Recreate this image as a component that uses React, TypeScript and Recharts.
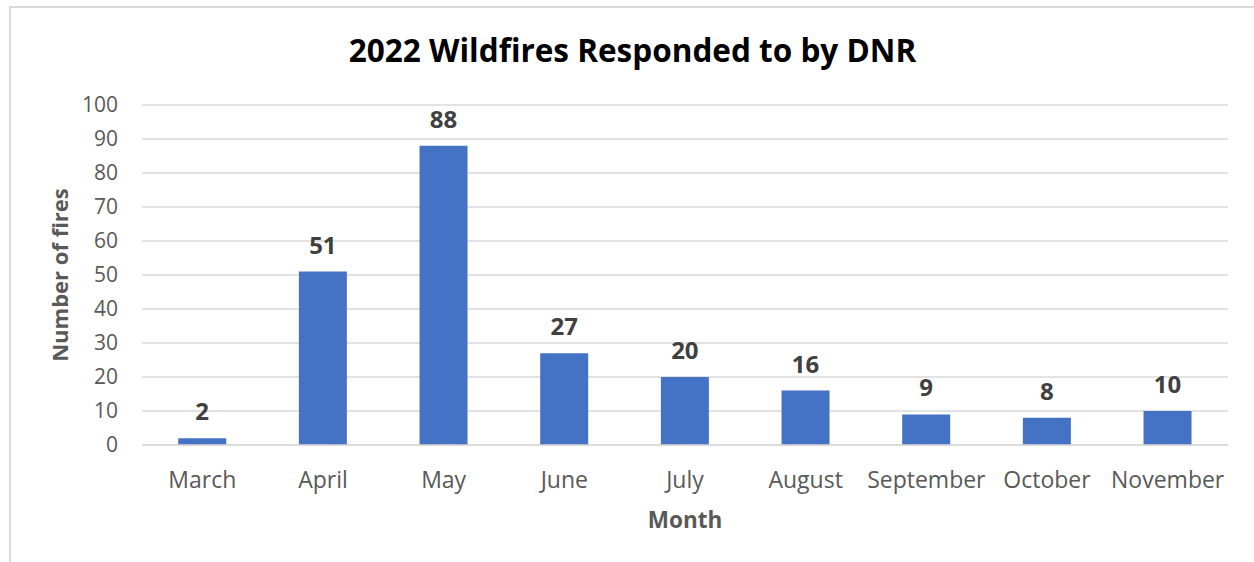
import { BarChart, Bar, XAxis, YAxis, CartesianGrid, LabelList, Label } from "recharts";

const months = ["March", "April", "May", "June", "July", "August", "September", "October", "November"];
const fires = [2, 51, 88, 27, 20, 16, 9, 8, 10];
const yTicks = [0, 10, 20, 30, 40, 50, 60, 70, 80, 90, 100];

const font = "'Open Sans', 'Noto Sans', sans-serif";

export default function App() {
  const data = months.map((month, i) => ({ month, fires: fires[i] }));

  return (
    <div style={{ position: "absolute", left: 0, top: 0, width: 1254, height: 562, background: "#fff", overflow: "hidden", fontFamily: font }}>
      <div
        style={{
          position: "absolute",
          left: 9,
          top: 6,
          width: 1300,
          height: 600,
          border: "2px solid #d9d9d9",
          boxSizing: "border-box",
        }}
      />
      <div
        style={{
          position: "absolute",
          left: 0,
          width: 1265,
          top: 29,
          textAlign: "center",
          fontSize: 31.5,
          fontWeight: 700,
          color: "#000",
          lineHeight: "42px",
        }}
      >
        2022 Wildfires Responded to by DNR
      </div>
      <div style={{ position: "absolute", left: 0, top: 0 }}>
        <BarChart
          width={1254}
          height={562}
          data={data}
          margin={{ top: 105, right: 26, bottom: 0, left: 0 }}
          barCategoryGap="30%"
        >
          <CartesianGrid vertical={false} stroke="#d9d9d9" strokeWidth={1.5} />
          <XAxis
            dataKey="month"
            height={117}
            axisLine={{ stroke: "#d9d9d9", strokeWidth: 1.5 }}
            tickLine={false}
            tickSize={0}
            tickMargin={27}
            tick={{ fill: "#595959", fontSize: 23, fontFamily: font }}
            interval={0}
          >
            <Label
              value="Month"
              position="center"
              dy={17}
              style={{ fill: "#595959", fontSize: 22.5, fontWeight: 700, fontFamily: font }}
            />
          </XAxis>
          <YAxis
            width={142}
            domain={[0, 100]}
            ticks={yTicks}
            axisLine={false}
            tickLine={false}
            tickSize={0}
            tickMargin={24}
            tick={{ fill: "#595959", fontSize: 21, fontFamily: font }}
          >
            <Label
              value="Number of fires"
              angle={-90}
              position="center"
              dx={-11}
              style={{ fill: "#595959", fontSize: 22, fontWeight: 700, fontFamily: font, textAnchor: "middle" }}
            />
          </YAxis>
          <Bar dataKey="fires" fill="#4472c4" isAnimationActive={false}>
            <LabelList
              dataKey="fires"
              position="top"
              offset={18}
              style={{ fill: "#404040", fontSize: 24, fontWeight: 700, fontFamily: font }}
            />
          </Bar>
        </BarChart>
      </div>
    </div>
  );
}
